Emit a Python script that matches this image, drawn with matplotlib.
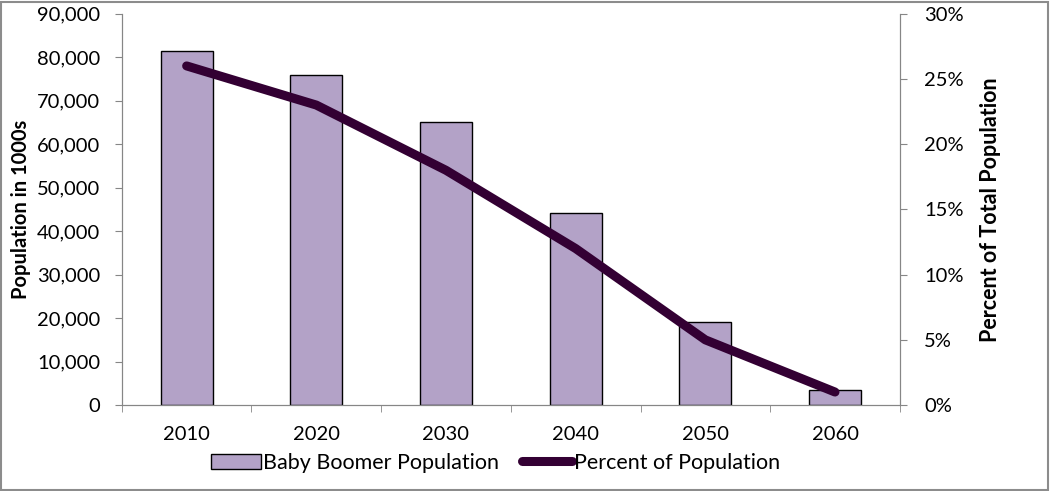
import matplotlib.pyplot as plt
from matplotlib.ticker import FuncFormatter
import numpy as np

# =========================
# DATA
# =========================
years = ["2010", "2020", "2030", "2040", "2050", "2060"]
boomers = [81500, 76000, 65000, 44200, 19000, 3400]
percent = [26, 23, 18, 12, 5, 1]

plt.rcParams["font.family"] = ["Lato", "DejaVu Sans"]

bar_color = "#B3A2C7"
line_color = "#330033"
grid_gray = "#868686"

fig = plt.figure(figsize=(10.5, 4.91), dpi=100)
fig.patches.append(plt.Rectangle((0.001, 0.003), 0.997, 0.993, transform=fig.transFigure,
                                 fill=False, edgecolor="#8C8C8C", linewidth=1.5))
ax = fig.add_axes([0.116, 0.175, 0.741, 0.797])
x = np.arange(len(years))

# =========================
# BARS (left axis)
# =========================
ax.bar(x, boomers, width=0.4, color=bar_color, edgecolor="black", linewidth=1,
       label="Baby Boomer Population")
ax.set_xlim(-0.5, len(years) - 0.5)
ax.set_ylim(0, 90000)
ax.set_yticks(range(0, 90001, 10000))
ax.yaxis.set_major_formatter(FuncFormatter(lambda v, p: f"{int(v):,}"))
ax.set_ylabel("Population in 1000s", fontsize=14.5, fontweight="bold", labelpad=4)
ax.set_xticks(x)
ax.set_xticklabels(years)
ax.set_xticks(np.arange(-0.5, len(years)), minor=True)
ax.tick_params(axis="x", which="major", length=0, pad=15, labelsize=14.5)
ax.tick_params(axis="x", which="minor", length=5, color=grid_gray)
ax.tick_params(axis="y", length=5, pad=10.5, color=grid_gray, labelsize=14.5)
ax.spines["top"].set_visible(False)
for s in ["left", "bottom", "right"]:
    ax.spines[s].set_color(grid_gray)

# =========================
# LINE (right axis)
# =========================
ax2 = ax.twinx()
ax2.plot(x, percent, color=line_color, linewidth=6.5, solid_capstyle="round",
         solid_joinstyle="round", label="Percent of Population")
ax2.set_ylim(0, 30)
ax2.set_yticks(range(0, 31, 5))
ax2.yaxis.set_major_formatter(FuncFormatter(lambda v, p: f"{int(v)}%"))
ax2.set_ylabel("Percent of Total Population", fontsize=15.5, fontweight="bold", labelpad=12)
ax2.tick_params(axis="y", length=5, pad=12.5, color=grid_gray, labelsize=14.5)
ax2.spines["top"].set_visible(False)
for s in ["left", "bottom", "right"]:
    ax2.spines[s].set_color(grid_gray)

# =========================
# LEGEND
# =========================
h1, l1 = ax.get_legend_handles_labels()
h2, l2 = ax2.get_legend_handles_labels()
fig.legend(h1 + h2, l1 + l2, loc="center", bbox_to_anchor=(0.472, 0.057), ncol=2,
           frameon=False, fontsize=15.5, handlelength=2.3, handletextpad=0.1,
           columnspacing=1.1)

plt.savefig("out.png", dpi=100)
